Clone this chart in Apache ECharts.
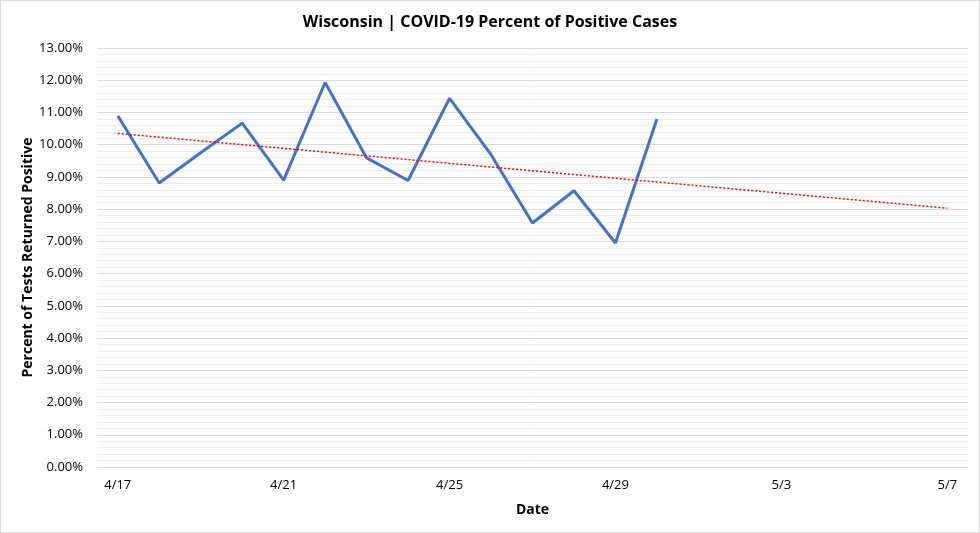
<!DOCTYPE html>
<html>
<head>
<meta charset="utf-8">
<script src="https://cdn.jsdelivr.net/npm/echarts@6/dist/echarts.min.js"></script>
<style>
html,body{margin:0;padding:0;background:#fff;}
#c{width:978px;height:531px;border:1px solid #d9d9d9;}
</style>
</head>
<body>
<div id="c"></div>
<script>
var categories = ['4/17','4/18','4/19','4/20','4/21','4/22','4/23','4/24','4/25','4/26','4/27','4/28','4/29','4/30','5/1','5/2','5/3','5/4','5/5','5/6','5/7'];
var positiveRate = [10.90, 8.81, 9.75, 10.67, 8.90, 11.93, 9.59, 8.89, 11.44, 9.69, 7.57, 8.57, 6.95, 10.80];
var trendStart = 10.35;
var trendEnd = 8.03;

var trendData = categories.map(function(c, i){
  if (i === 0) return trendStart;
  if (i === categories.length - 1) return trendEnd;
  return null;
});

var chart = echarts.init(document.getElementById('c'));
var font = 'Open Sans, Liberation Sans, sans-serif';
chart.setOption({
  animation: false,
  title: {
    text: 'Wisconsin | COVID-19 Percent of Positive Cases',
    left: 'center', top: 8,
    textStyle: {fontFamily: font, fontSize: 16, fontWeight: 'bold', color: '#000'}
  },
  grid: {left: 96, right: 11, top: 47, bottom: 65},
  xAxis: {
    type: 'category',
    data: categories,
    boundaryGap: true,
    name: 'Date',
    nameLocation: 'middle',
    nameGap: 36,
    nameMoveOverlap: false,
    nameTextStyle: {fontFamily: font, fontSize: 14, fontWeight: 'bold', color: '#000'},
    axisLine: {lineStyle: {color: '#d9d9d9', width: 1}},
    axisTick: {interval: 3, length: 5, lineStyle: {color: '#d9d9d9'}},
    axisLabel: {interval: 3, margin: 12, fontFamily: font, fontSize: 13, color: '#000'}
  },
  yAxis: {
    type: 'value',
    min: 0, max: 13, interval: 1,
    name: 'Percent of Tests Returned Positive',
    nameLocation: 'middle',
    nameGap: 62,
    nameMoveOverlap: false,
    nameTextStyle: {fontFamily: font, fontSize: 14, fontWeight: 'bold', color: '#000'},
    axisLine: {show: false},
    axisTick: {show: false},
    axisLabel: {margin: 14, fontFamily: font, fontSize: 13, color: '#000',
      formatter: function(v){ return v.toFixed(2) + '%'; }},
    splitLine: {lineStyle: {color: '#d9d9d9', width: 1}},
    minorTick: {show: false, splitNumber: 5},
    minorSplitLine: {show: true, lineStyle: {color: '#ececec', width: 1}}
  },
  series: [
    {
      type: 'line',
      data: positiveRate,
      symbol: 'none',
      lineStyle: {color: '#4472C4', width: 3},
      z: 3
    },
    {
      type: 'line',
      data: trendData,
      connectNulls: true,
      symbol: 'none',
      lineStyle: {color: '#FF0000', width: 1.5, type: [2, 2]},
      z: 4
    }
  ]
});
</script>
</body>
</html>
